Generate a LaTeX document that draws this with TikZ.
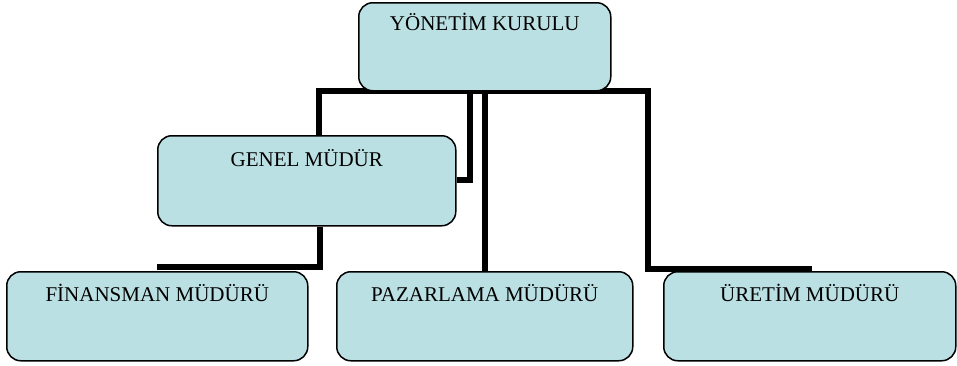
\documentclass[tikz,border=0pt]{standalone}
\usepackage{fontspec}
\setmainfont{Liberation Serif}
\definecolor{boxfill}{RGB}{187,224,227}
\pgfdeclarelayer{background}
\pgfsetlayers{background,main}
\tikzset{
  orgbox/.style={draw=black, line width=1.5pt, fill=boxfill, rounded corners=14pt,
    anchor=north west, inner xsep=0pt, inner ysep=0pt, align=center,
    font=\fontsize{21}{25}\selectfont},
  link/.style={draw=black, line width=5.5pt, line join=miter}
}
\begin{document}
\begin{tikzpicture}[x=1pt, y=-1pt]
\useasboundingbox (0,0) rectangle (957,365);
% junction coordinates
\coordinate (j1) at (319,91);
\coordinate (j2) at (648,91);
\coordinate (j3) at (648,269);
\coordinate (j4) at (812,269);
\coordinate (k1) at (470,91);
\coordinate (k2) at (470,180);
\coordinate (p1) at (485,91);
\coordinate (g1) at (320,267);
\coordinate (g2) at (157,267);
% boxes
\path
  (358,2) node[orgbox, minimum width=252pt, text height=28pt, text depth=60pt] (yk) {YÖNETİM KURULU}
  (157,135) node[orgbox, minimum width=298pt, text height=31pt, text depth=59pt] (gm) {GENEL MÜDÜR}
  (6,271) node[orgbox, minimum width=301pt, text height=30pt, text depth=59pt] (fm) {FİNANSMAN MÜDÜRÜ}
  (336,271) node[orgbox, minimum width=296pt, text height=30pt, text depth=59pt] (pm) {PAZARLAMA MÜDÜRÜ}
  (663,271) node[orgbox, minimum width=292pt, text height=30pt, text depth=59pt] (um) {ÜRETİM MÜDÜRÜ};
% connectors, behind the boxes
\begin{pgfonlayer}{background}
\draw[link] (gm.north -| j1) -- (j1) -- (j2) -- (j3) -- (j4);
\draw[link] (k1) -- (k2) -- (k2 -| gm.east);
\draw[link] (p1) -- (p1 |- pm.north);
\draw[link] (gm.south -| g1) -- (g1) -- (g2);
\end{pgfonlayer}
\end{tikzpicture}
\end{document}
